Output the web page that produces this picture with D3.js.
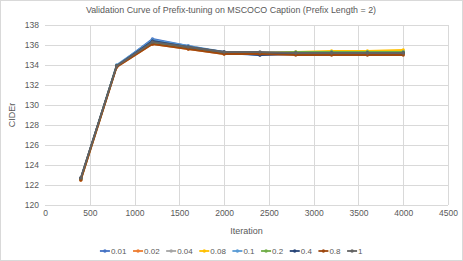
<!DOCTYPE html>
<html>
<head>
<meta charset="utf-8">
<script src="https://cdn.jsdelivr.net/npm/d3@7"></script>
<style>
  body { margin: 0; background: #fff; }
  text { font-family: "Liberation Sans", Arial, sans-serif; fill: #595959; }
</style>
</head>
<body>
<div id="chart"></div>
<script>
const width = 463;
const height = 261;

// data
const iterations = [400, 800, 1200, 1600, 2000, 2400, 2800, 3200, 3600, 4000];
const seriesNames = ['0.01', '0.02', '0.04', '0.08', '0.1', '0.2', '0.4', '0.8', '1'];
const v001 = [122.6, 133.9, 136.6, 135.9, 135.2, 135.0, 135.1, 135.2, 135.2, 135.2];
const v002 = [122.5, 133.8, 136.1, 135.6, 135.1, 135.1, 135.1, 135.1, 135.1, 135.1];
const v004 = [122.6, 133.9, 136.3, 135.7, 135.2, 135.2, 135.2, 135.3, 135.3, 135.3];
const v008 = [122.6, 133.9, 136.2, 135.7, 135.2, 135.2, 135.3, 135.4, 135.4, 135.5];
const v01 = [122.6, 134.0, 136.5, 135.9, 135.3, 135.1, 135.2, 135.3, 135.3, 135.3];
const v02 = [122.6, 133.9, 136.2, 135.7, 135.2, 135.2, 135.3, 135.3, 135.3, 135.3];
const v04 = [122.7, 133.9, 136.4, 135.8, 135.3, 135.0, 135.2, 135.2, 135.2, 135.2];
const v08 = [122.5, 133.8, 136.1, 135.6, 135.1, 135.1, 135.0, 135.0, 135.0, 135.0];
const v1 = [122.7, 133.9, 136.3, 135.8, 135.3, 135.3, 135.2, 135.2, 135.2, 135.2];
const xTicks = [0, 500, 1000, 1500, 2000, 2500, 3000, 3500, 4000, 4500];
const yTicks = [120, 122, 124, 126, 128, 130, 132, 134, 136, 138];

const allValues = [v001, v002, v004, v008, v01, v02, v04, v08, v1];
const series = seriesNames.map((name, i) => ({
    name: name,
    values: iterations.map((it, j) => ({ x: it, y: allValues[i][j] }))
}));

const color = d3.scaleOrdinal()
    .domain(seriesNames)
    .range(['#4472C4', '#ED7D31', '#A5A5A5', '#FFC000', '#5B9BD5', '#70AD47', '#264478', '#9E480E', '#636363']);

const margin = { left: 45, right: 15, top: 25, bottom: 56 };

const x = d3.scaleLinear().domain([0, 4500]).range([margin.left, width - margin.right]);
const y = d3.scaleLinear().domain([120, 138]).range([height - margin.bottom, margin.top]);

const svg = d3.select('#chart').append('svg').attr('width', width).attr('height', height);

// chart border
svg.append('rect')
    .attr('x', 0.5).attr('y', 0.5)
    .attr('width', width - 1).attr('height', height - 1)
    .attr('fill', '#fff').attr('stroke', '#D9D9D9');

// gridlines
svg.append('g')
    .selectAll('line.h')
    .data(yTicks)
    .join('line')
    .attr('x1', x(0)).attr('x2', x(4500))
    .attr('y1', d => Math.round(y(d)) + 0.5).attr('y2', d => Math.round(y(d)) + 0.5)
    .attr('stroke', '#D9D9D9');

svg.append('g')
    .selectAll('line.v')
    .data(xTicks.slice(1))
    .join('line')
    .attr('x1', d => Math.round(x(d)) + 0.5).attr('x2', d => Math.round(x(d)) + 0.5)
    .attr('y1', y(138)).attr('y2', y(120))
    .attr('stroke', '#D9D9D9');

// axes
const yAxis = svg.append('g')
    .attr('transform', `translate(${x(0) - 6},0)`)
    .call(d3.axisLeft(y).tickValues(yTicks).tickSize(0).tickPadding(0));
yAxis.select('.domain').remove();
yAxis.selectAll('text').style('font-size', '8.5px').attr('fill', '#595959');

const xAxis = svg.append('g')
    .attr('transform', `translate(0,${y(120) + 5})`)
    .call(d3.axisBottom(x).tickValues(xTicks).tickFormat(d3.format('d')).tickSize(0).tickPadding(0));
xAxis.select('.domain').remove();
xAxis.selectAll('text').style('font-size', '8.5px').attr('fill', '#595959');

// title and axis titles
svg.append('text')
    .attr('x', 231).attr('y', 13)
    .attr('text-anchor', 'middle')
    .style('font-size', '8.9px')
    .text('Validation Curve of Prefix-tuning on MSCOCO Caption (Prefix Length = 2)');

svg.append('text')
    .attr('x', (x(0) + x(4500)) / 2).attr('y', 234)
    .attr('text-anchor', 'middle')
    .style('font-size', '9px')
    .text('Iteration');

svg.append('text')
    .attr('transform', `translate(15,${(y(120) + y(138)) / 2}) rotate(-90)`)
    .attr('text-anchor', 'middle')
    .style('font-size', '9px')
    .text('CIDEr');

// lines
const line = d3.line().x(d => x(d.x)).y(d => y(d.y));

const groups = svg.append('g')
    .selectAll('g.series')
    .data(series)
    .join('g')
    .attr('class', 'series');

groups.append('path')
    .attr('d', d => line(d.values))
    .attr('fill', 'none')
    .attr('stroke', d => color(d.name))
    .attr('stroke-width', 1.8)
    .attr('stroke-linejoin', 'round');

groups.selectAll('circle')
    .data(d => d.values.map(v => ({ ...v, name: d.name })))
    .join('circle')
    .attr('cx', d => x(d.x))
    .attr('cy', d => y(d.y))
    .attr('r', 1.7)
    .attr('fill', d => color(d.name));

// legend
const legend = svg.append('g');
const items = legend.selectAll('g.item')
    .data(seriesNames)
    .join('g')
    .attr('class', 'item');

items.append('line')
    .attr('x1', 0).attr('x2', 10)
    .attr('y1', 0).attr('y2', 0)
    .attr('stroke', d => color(d))
    .attr('stroke-width', 1.8);
items.append('circle')
    .attr('cx', 5).attr('cy', 0).attr('r', 1.7)
    .attr('fill', d => color(d));
items.append('text')
    .attr('x', 11).attr('y', 3)
    .style('font-size', '8px')
    .text(d => d);

let offset = 0;
items.each(function() {
    const w = this.getBBox().width;
    d3.select(this).attr('transform', `translate(${offset},251)`);
    offset += w + 6;
});
const total = offset - 6;
legend.attr('transform', `translate(${(width - total) / 2},0)`);
</script>
</body>
</html>
